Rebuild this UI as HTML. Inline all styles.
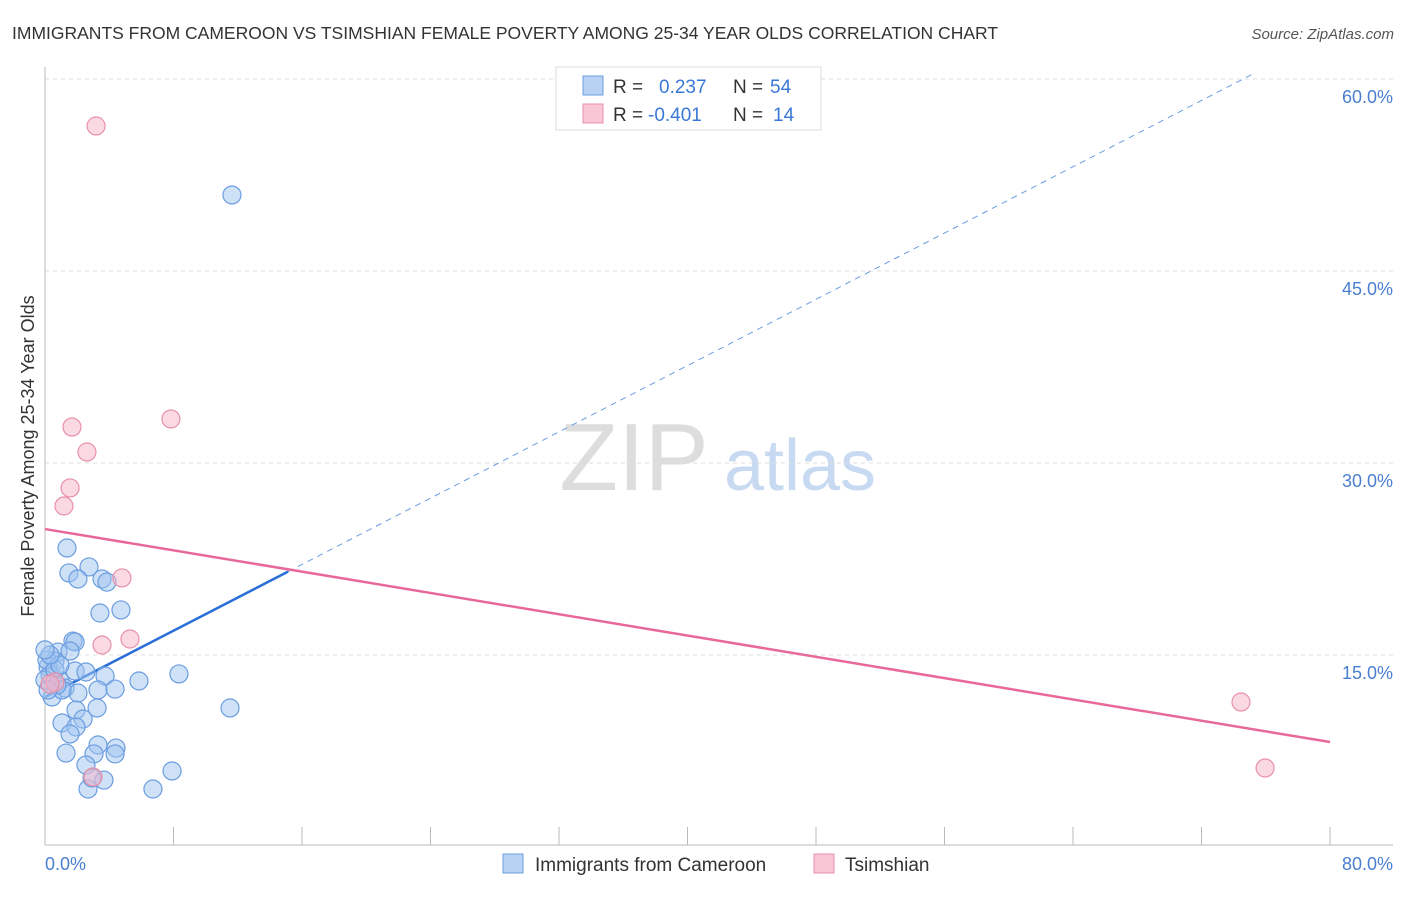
<!DOCTYPE html>
<html><head><meta charset="utf-8"><style>
body{margin:0;background:#fff;font-family:"Liberation Sans",sans-serif;}
svg text{font-family:"Liberation Sans",sans-serif;}
</style></head><body>
<svg id="chart" width="1406" height="892" xmlns="http://www.w3.org/2000/svg">
<text x="12" y="39" font-size="17.5" fill="#333">IMMIGRANTS FROM CAMEROON VS TSIMSHIAN FEMALE POVERTY AMONG 25-34 YEAR OLDS CORRELATION CHART</text>
<text x="1394" y="39" font-size="15" fill="#555" font-style="italic" text-anchor="end">Source: ZipAtlas.com</text>
<text x="634" y="490" font-size="96" fill="#ddd" font-family="Liberation Serif" text-anchor="middle">ZIP</text>
<text x="800" y="490" font-size="72" fill="#c8daf2" text-anchor="middle">atlas</text>
<g id="grid"></g>
<g id="axes"></g>
<g id="lines"></g>
<g id="points"></g>
<text transform="translate(34,456) rotate(-90)" font-size="18" fill="#333" text-anchor="middle">Female Poverty Among 25-34 Year Olds</text>
<text x="45" y="870" font-size="18" fill="#4a7fd0">0.0%</text>
<text x="1393" y="870" font-size="18" fill="#4a7fd0" text-anchor="end">80.0%</text>
<g>
<rect x="556" y="67" width="265" height="63" fill="#fff" stroke="#ddd"/>
<rect x="583" y="76" width="20" height="19" fill="#b8d2f4" stroke="#6a9de0"/>
<rect x="583" y="104" width="20" height="19" fill="#f8c6d4" stroke="#e890a8"/>
<text x="613" y="93" font-size="19" fill="#333">R = </text><text x="659" y="93" font-size="19" fill="#3a78d8">0.237</text>
<text x="733" y="93" font-size="19" fill="#333">N = </text><text x="770" y="93" font-size="19" fill="#3a78d8">54</text>
<text x="613" y="121" font-size="19" fill="#333">R = </text><text x="648" y="121" font-size="19" fill="#3a78d8">-0.401</text>
<text x="733" y="121" font-size="19" fill="#333">N = </text><text x="773" y="121" font-size="19" fill="#3a78d8">14</text>
</g>
<g>
<rect x="503" y="854" width="20" height="19" fill="#b8d2f4" stroke="#6a9de0"/>
<text x="535" y="871" font-size="19" fill="#333">Immigrants from Cameroon</text>
<rect x="814" y="854" width="20" height="19" fill="#f8c6d4" stroke="#e890a8"/>
<text x="845" y="871" font-size="19" fill="#333">Tsimshian</text>
</g>
</svg>
<script>
const blueX=[11.64,1.37,1.49,2.74,2.05,3.55,3.86,3.42,4.73,1.74,1.87,0.81,1.56,0.62,0.19,1.87,2.55,3.74,5.85,8.34,0.31,0.93,1.25,2.05,3.30,4.36,0.44,1.06,1.93,2.37,3.24,1.06,1.93,1.56,11.52,1.31,3.30,3.05,4.42,4.36,2.55,7.91,3.67,2.68,6.72,0.12,0.0,0.62,0.75,0.19,0.93,0.31,2.93,0.0];
const blueY=[50.94,23.36,21.41,21.88,20.94,20.94,20.70,18.28,18.52,16.09,16.02,15.23,15.31,14.53,14.06,13.75,13.67,13.36,12.97,13.52,13.44,12.97,12.42,12.03,12.27,12.34,11.72,12.27,10.70,10.00,10.86,9.69,9.38,8.83,10.86,7.34,7.97,7.27,7.73,7.27,6.41,5.94,5.23,4.53,4.53,14.61,13.05,13.83,12.66,12.27,14.22,15.0,5.39,15.4];
const pinkX=[3.18,7.84,1.68,2.61,1.56,1.18,4.79,3.55,5.29,74.46,75.96,2.99,0.62,0.31];
const pinkY=[56.33,33.44,32.81,30.86,28.05,26.64,21.02,15.78,16.25,11.33,6.17,5.47,12.89,12.73];
const yTicks=[15,30,45,60];
const xTicks=[0,8,16,24,32,40,48,56,64,72,80];
const blueTrend=[11.72,63.5];
const pinkTrend=[24.84,8.2];
const blueSolidEnd=15.13, blueDashEnd=75.3;
const sx=v=>45+v/80*1285;
const sy=v=>847-v*12.8;
const NS="http://www.w3.org/2000/svg";
function mk(tag,attrs,parent){const e=document.createElementNS(NS,tag);for(const k in attrs)e.setAttribute(k,attrs[k]);parent.appendChild(e);return e;}
const grid=document.getElementById('grid'),axes=document.getElementById('axes'),lines=document.getElementById('lines'),pts=document.getElementById('points');
yTicks.forEach(t=>{
 const l=mk('line',{x1:45,x2:1393,y1:sy(t),y2:sy(t),stroke:'#ddd','stroke-dasharray':'4,4'},grid);
 
 
 const tx=mk('text',{x:1393,y:sy(t)+24,'font-size':18,fill:'#4a7fd0','text-anchor':'end'},grid);
 tx.textContent=t.toFixed(1)+'%';
 
 
});
const ax=mk('line',{x1:45,x2:1393,y1:845,y2:845,stroke:'#bbb'},axes);


const ay=mk('line',{x1:45,x2:45,y1:67,y2:845,stroke:'#bbb'},axes);


xTicks.forEach(t=>{
 const l=mk('line',{x1:sx(t),x2:sx(t),y1:827,y2:845,stroke:'#bbb'},axes);
 
 
});
const by=x=>blueTrend[0]+(blueTrend[1]-blueTrend[0])*x/80;
const py=x=>pinkTrend[0]+(pinkTrend[1]-pinkTrend[0])*x/80;
const b1=mk('line',{x1:sx(0),y1:sy(by(0)),x2:sx(blueSolidEnd),y2:sy(by(blueSolidEnd)),stroke:'#2a6fd8','stroke-width':2.5},lines);


const b2=mk('line',{x1:sx(blueSolidEnd),y1:sy(by(blueSolidEnd)),x2:sx(blueDashEnd),y2:sy(by(blueDashEnd)),stroke:'#6a9de0','stroke-width':1,'stroke-dasharray':'6,5'},lines);


const p1=mk('line',{x1:sx(0),y1:sy(py(0)),x2:sx(80),y2:sy(py(80)),stroke:'#e8689a','stroke-width':2.5},lines);


blueX.forEach((x,i)=>{
 const c=mk('circle',{cx:sx(x),cy:sy(blueY[i]),r:9,fill:'rgba(160,196,240,0.5)',stroke:'#6a9de0','stroke-width':1.2},pts);
 
 
});
pinkX.forEach((x,i)=>{
 const c=mk('circle',{cx:sx(x),cy:sy(pinkY[i]),r:9,fill:'rgba(248,180,200,0.5)',stroke:'#e890a8','stroke-width':1.2},pts);
 
 
});
</script>
</body></html>
